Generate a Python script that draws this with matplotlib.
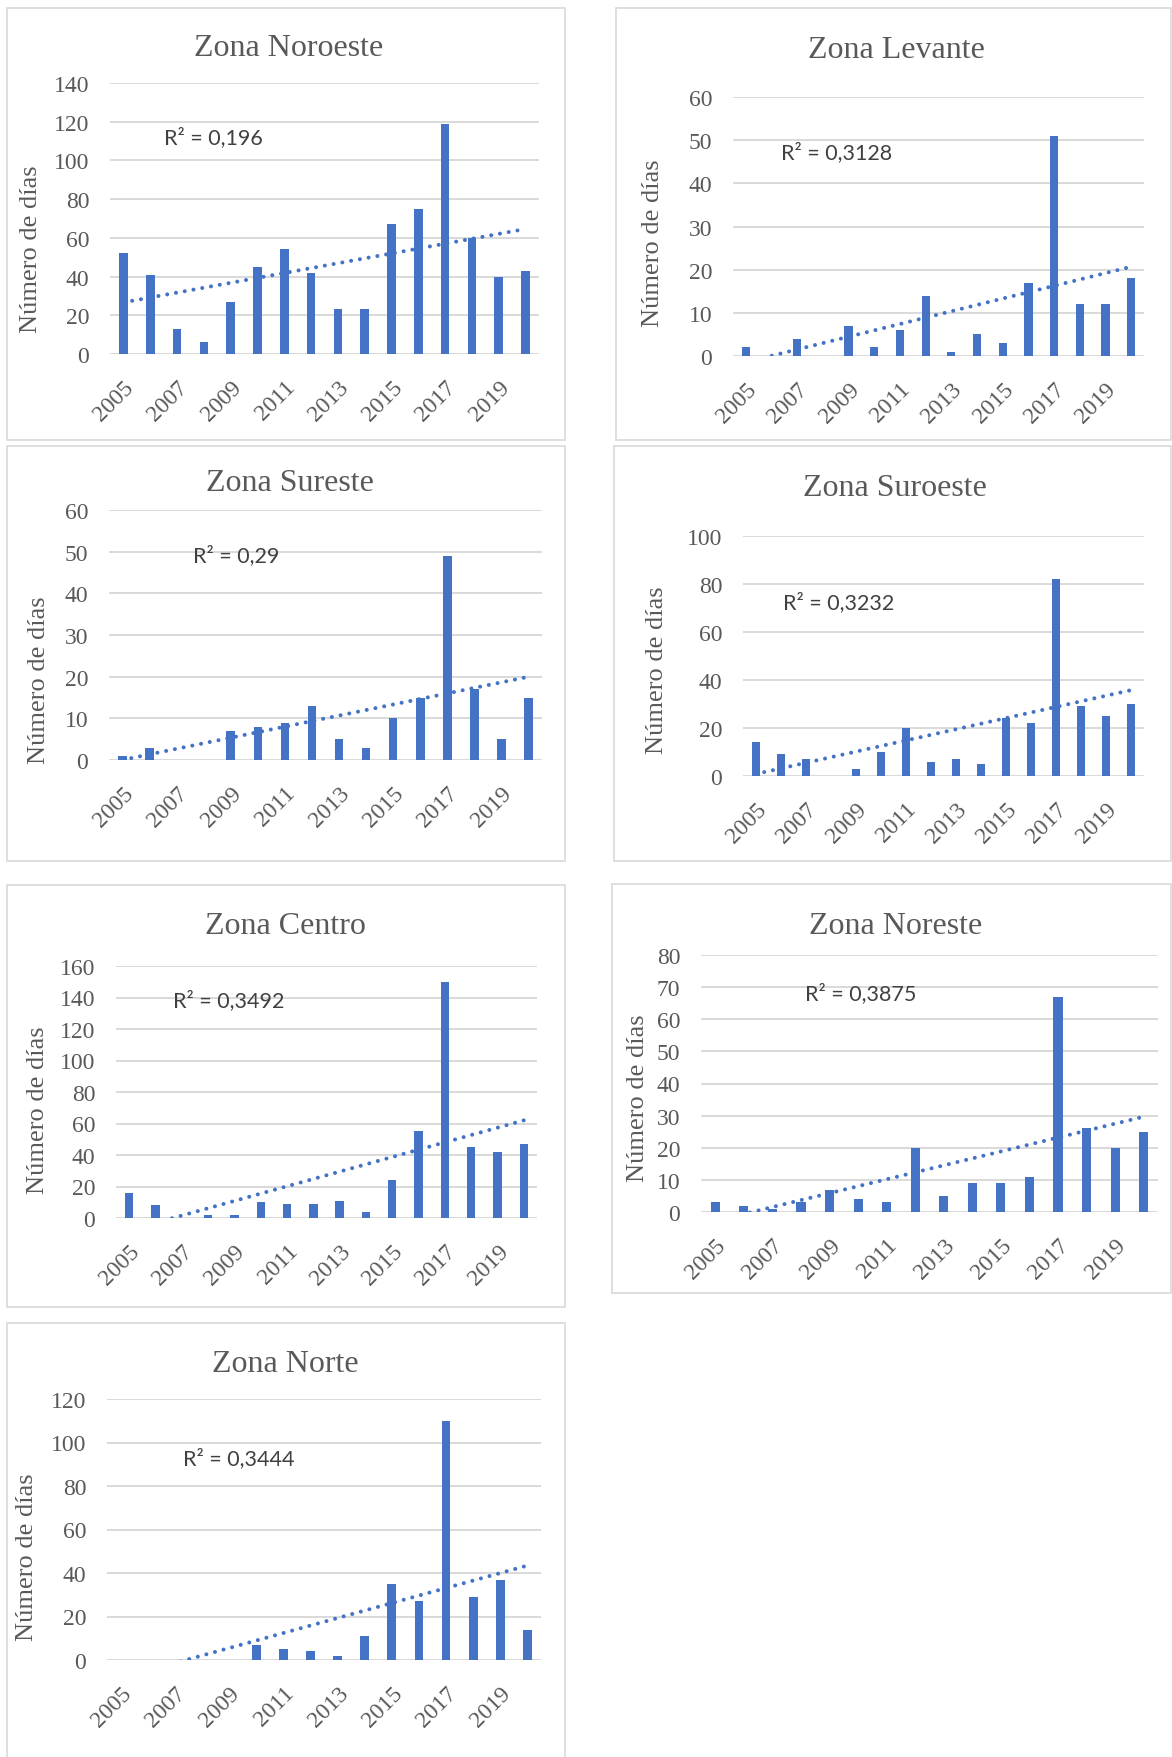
import matplotlib
matplotlib.use("Agg")
import matplotlib.pyplot as plt
from matplotlib.patches import Rectangle
import numpy as np

plt.rcParams["font.family"] = "Liberation Serif"

years = list(range(2005, 2021))
tick_years = [2005, 2007, 2009, 2011, 2013, 2015, 2017, 2019]

noroeste = [52, 41, 13, 6, 27, 45, 54, 42, 23, 23, 67, 75, 119, 60, 40, 43]
levante = [2, 0, 4, 0, 7, 2, 6, 14, 1, 5, 3, 17, 51, 12, 12, 18]
sureste = [1, 3, 0, 0, 7, 8, 9, 13, 5, 3, 10, 15, 49, 17, 5, 15]
suroeste = [14, 9, 7, 0, 3, 10, 20, 6, 7, 5, 24, 22, 82, 29, 25, 30]
centro = [16, 8, 0, 2, 2, 10, 9, 9, 11, 4, 24, 55, 150, 45, 42, 47]
noreste = [3, 2, 1, 3, 7, 4, 3, 20, 5, 9, 9, 11, 67, 26, 20, 25]
norte = [0, 0, 0, 0, 0, 7, 5, 4, 2, 11, 35, 27, 110, 29, 37, 14]

titles = ["Zona Noroeste", "Zona Levante", "Zona Sureste", "Zona Suroeste",
          "Zona Centro", "Zona Noreste", "Zona Norte"]
r2_labels = ["R² = 0,196", "R² = 0,3128", "R² = 0,29", "R² = 0,3232",
             "R² = 0,3492", "R² = 0,3875", "R² = 0,3444"]
series = [noroeste, levante, sureste, suroeste, centro, noreste, norte]
y_max = [140, 60, 60, 100, 160, 80, 120]
y_step = [20, 10, 10, 20, 20, 10, 20]

# layout in pixels of the 1172x1758 canvas
W, H = 1172, 1758
frames = [(7, 9, 565, 441), (616, 9, 1171, 441), (7, 447, 565, 862), (614, 447, 1171, 862),
          (7, 886, 565, 1308), (612, 885, 1171, 1294), (7, 1324, 565, 1760)]
plot_areas = [(110, 84, 539, 355), (733, 98, 1144, 357), (109, 511, 542, 761),
              (743, 537, 1144, 777), (116, 967, 537, 1219), (701, 956, 1158, 1213),
              (107, 1400, 541, 1661)]
title_xy = [(289, 49), (896, 50), (290, 484), (895, 489), (285, 927), (896, 927), (285, 1365)]
r2_xy = [(164, 138), (781, 153), (193, 556), (783, 603), (173, 1001), (805, 994), (183, 1459)]
ylab_xy = [(31, 249), (653, 243), (39, 680), (657, 670), (38, 1110), (638, 1098), (27, 1557)]

BLUE = "#4472C4"
GRID = "#D9D9D9"
TXT = "#595959"

fig = plt.figure(figsize=(W / 100, H / 100), dpi=100)


def fx(x):
    return x / W


def fy(y):
    return 1 - y / H


for i in range(7):
    x0, y0, x1, y1 = frames[i]
    fig.add_artist(Rectangle((fx(x0), fy(y1)), fx(x1 - x0), (y1 - y0) / H,
                             transform=fig.transFigure, fill=False,
                             edgecolor=GRID, lw=1.2))

    a0, b0, a1, b1 = plot_areas[i]
    ax = fig.add_axes([fx(a0), fy(b1), fx(a1 - a0), (b1 - b0) / H])
    vals = np.array(series[i], dtype=float)
    x = np.arange(len(years))
    ax.bar(x, vals, width=0.32, color=BLUE, zorder=2)

    # linear trendline, as Excel draws it
    k, c = np.polyfit(x, vals, 1)
    xt = np.array([x[0], x[-1]])
    ax.plot(xt, k * xt + c, color=BLUE, lw=2.9, linestyle=(0, (0.01, 2.2)),
            dash_capstyle="round", zorder=3)

    ax.set_xlim(-0.5, len(years) - 0.5)
    ax.set_ylim(0, y_max[i])
    ax.set_yticks(np.arange(0, y_max[i] + 1, y_step[i]))
    ax.set_xticks([years.index(t) for t in tick_years])
    ax.set_xticklabels([str(t) for t in tick_years], rotation=45, ha="right",
                       va="top", rotation_mode="anchor")
    ax.yaxis.grid(True, color=GRID, lw=1.4)
    ax.set_axisbelow(True)
    for s in ax.spines.values():
        s.set_visible(False)
    ax.tick_params(length=0, colors=TXT, labelsize=17)
    ax.tick_params(axis="y", pad=15)
    ax.tick_params(axis="x", pad=16)

    tx, ty = title_xy[i]
    fig.text(fx(tx), fy(ty), titles[i], ha="center", va="center",
             fontsize=23, color=TXT)
    rx, ry = r2_xy[i]
    fig.text(fx(rx), fy(ry), r2_labels[i], ha="left", va="center",
             fontsize=15.5, color="#404040", fontfamily="Lato")
    lx, ly = ylab_xy[i]
    fig.text(fx(lx), fy(ly), "Número de días", ha="center", va="center",
             rotation=90, fontsize=19, color=TXT)

fig.savefig("out.png", dpi=100, facecolor="white")
